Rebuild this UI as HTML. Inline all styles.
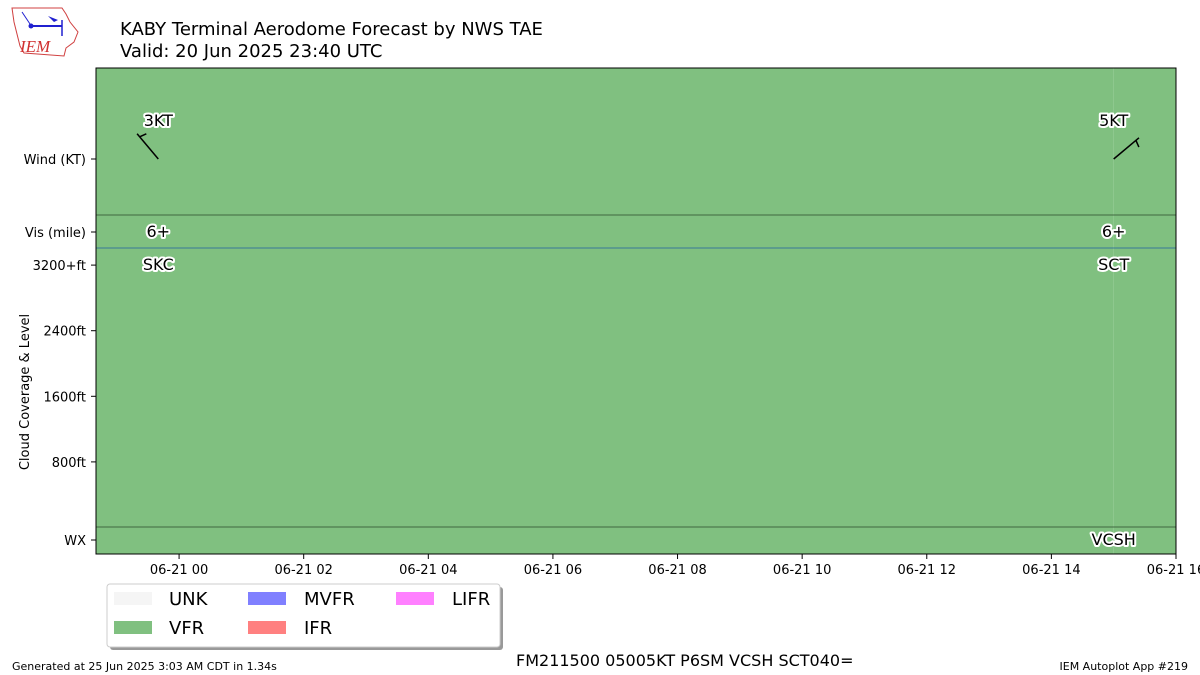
<!DOCTYPE html>
<html><head><meta charset="utf-8"><style>
body{margin:0;width:1200px;height:675px;background:#fff;overflow:hidden;font-family:"Liberation Sans","DejaVu Sans",sans-serif}
svg{display:block}
.halo{paint-order:stroke;stroke:#fff;stroke-width:4px;stroke-linejoin:round}
</style></head><body>
<svg id="c" width="1200" height="675" font-family="DejaVu Sans, Liberation Sans, sans-serif">
<g>
<path d="M12,8 L62,8 L66,14 L70,22 L78,32 L74,42 L66,48 L64,56 L24,53 L20,46 L14,22 Z" fill="#fff" stroke="#d04040" stroke-width="1"/>
<line x1="30" y1="26" x2="62" y2="26" stroke="#2020d0" stroke-width="2"/>
<circle cx="31" cy="26" r="2.5" fill="#2020d0"/>
<path d="M48,16 L58,20 L54,22 Z" fill="#2020d0"/>
<line x1="62" y1="20" x2="62" y2="36" stroke="#2020d0" stroke-width="1.5"/>
<line x1="22" y1="12" x2="30" y2="24" stroke="#2020d0" stroke-width="1"/>
<text x="20" y="52" font-family="Liberation Serif, serif" font-style="italic" font-size="17" fill="#d03030">IEM</text>
</g>
<text x="120" y="35" font-size="18" fill="#000">KABY Terminal Aerodome Forecast by NWS TAE</text>
<text x="120" y="57" font-size="18" fill="#000">Valid: 20 Jun 2025 23:40 UTC</text>
<g id="plot"></g>
<g>
<rect x="110" y="587" width="393" height="63" rx="3" fill="#999"/>
<rect x="107" y="584" width="393" height="63" rx="3" fill="#fff" stroke="#ccc"/>
<g><rect x="114" y="592" width="38" height="13" fill="#f5f5f5"/><text x="169" y="605" font-size="18">UNK</text></g>
<g><rect x="114" y="621" width="38" height="13" fill="#80c080"/><text x="169" y="634" font-size="18">VFR</text></g>
<g><rect x="248" y="592" width="38" height="13" fill="#8080ff"/><text x="304" y="605" font-size="18">MVFR</text></g>
<g><rect x="248" y="621" width="38" height="13" fill="#ff8080"/><text x="304" y="634" font-size="18">IFR</text></g>
<g><rect x="396" y="592" width="38" height="13" fill="#ff80ff"/><text x="452" y="605" font-size="18">LIFR</text></g>
</g>
<text x="516" y="666" font-size="16">FM211500 05005KT P6SM VCSH SCT040=</text>
<text x="12" y="670" font-size="11">Generated at 25 Jun 2025 3:03 AM CDT in 1.34s</text>
<text x="1188" y="670" font-size="11" text-anchor="end">IEM Autoplot App #219</text>
</svg>
<script>
const times=[-20/60,15];           // hours relative to 06-21 00Z
const windSpeed=[3,5];
const windDir=[320,50];
const visLabels=["6+","6+"];
const skyLabels=["SKC","SCT"];
const wxLabels=["","VCSH"];
const categories=["VFR","VFR"];
const xTickHours=[0,2,4,6,8,10,12,14,16];
const xTickLabels=["06-21 00","06-21 02","06-21 04","06-21 06","06-21 08","06-21 10","06-21 12","06-21 14","06-21 16"];
const cloudTicks=[800,1600,2400,3200];
const cloudTickLabels=["800ft","1600ft","2400ft","3200+ft"];
const catColors={UNK:"#f5f5f5",VFR:"#80c080",MVFR:"#8080ff",IFR:"#ff8080",LIFR:"#ff80ff"};

const NS="http://www.w3.org/2000/svg";
const X0=96,X1=1176,Y0=68,Y1=554,H0=-4/3,H1=16;
const x=h=>X0+(h-H0)/(H1-H0)*(X1-X0);
const yc=f=>527.5-f/800*65.6;
const g=document.getElementById('plot');
function mk(t,a,p){const e=document.createElementNS(NS,t);for(const k in a)e.setAttribute(k,a[k]);(p||g).appendChild(e);return e;}

for(let i=0;i<times.length;i++){
  const a=x(times[i]),b=i+1<times.length?x(times[i+1]):X1;
  const r=mk('rect',{x:a<X0?X0:X0+(a-X0)*0,y:Y0,width:0,height:Y1-Y0,fill:catColors[categories[i]]});
  r.setAttribute('x',i==0?X0:a);r.setAttribute('width',b-(i==0?X0:a));
  
  
}
[[215,"#2a4a2a"],[248,"#2060a0"],[527,"#2a4a2a"]].forEach(([yy,c],i)=>{
  const l=mk('line',{x1:X0,x2:X1,y1:yy,y2:yy,stroke:c,'stroke-width':0.8});
  
  
});
const fr=mk('rect',{x:X0,y:Y0,width:X1-X0,height:Y1-Y0,fill:'none',stroke:'#000','stroke-width':1});



xTickHours.forEach((h,i)=>{
  const xx=x(h);
  mk('line',{x1:xx,x2:xx,y1:Y1,y2:Y1+5,stroke:'#000'});
  const t=mk('text',{x:xx,y:Y1+20,'font-size':13,'text-anchor':'middle'});t.textContent=xTickLabels[i];
  
  
});
function ylab(yy,s){mk('line',{x1:X0-5,x2:X0,y1:yy,y2:yy,stroke:'#000'});
  const t=mk('text',{x:X0-10,y:yy+5,'font-size':13,'text-anchor':'end'});t.textContent=s;
  
  }
ylab(159,"Wind (KT)");ylab(232,"Vis (mile)");
cloudTicks.forEach((f,i)=>ylab(yc(f),cloudTickLabels[i]));
ylab(540,"WX");
const yt=mk('text',{x:0,y:0,'font-size':13,'text-anchor':'middle',transform:'translate(29,392) rotate(-90)'});yt.textContent="Cloud Coverage & Level";



function lbl(xx,yy,s,name){const t=mk('text',{x:xx,y:yy,'font-size':16,'text-anchor':'middle',class:'halo'});t.textContent=s;
  
  }
times.forEach((h,i)=>{
  const xx=x(h);
  lbl(xx,126,windSpeed[i]+"KT",'wind-label');
  lbl(xx,237,visLabels[i],'vis-label');
  lbl(xx,270,skyLabels[i],'sky-label');
  if(wxLabels[i])lbl(xx,545,wxLabels[i],'wx-label');
  // wind barb
  const th=windDir[i]*Math.PI/180,L=33;
  const dx=Math.sin(th),dy=-Math.cos(th);
  const ex=xx+dx*L,ey=159+dy*L;
  const bg=mk('g',{});
  
  
  mk('line',{x1:xx,y1:159,x2:ex,y2:ey,stroke:'#000','stroke-width':1.5},bg);
  const bx=xx+dx*(L-4),by=159+dy*(L-4);
  const px=-dy,py=dx;
  mk('line',{x1:bx,y1:by,x2:bx+px*7-dx*2,y2:by+py*7-dy*2,stroke:'#000','stroke-width':1.5},bg);
});
</script>
</body></html>
